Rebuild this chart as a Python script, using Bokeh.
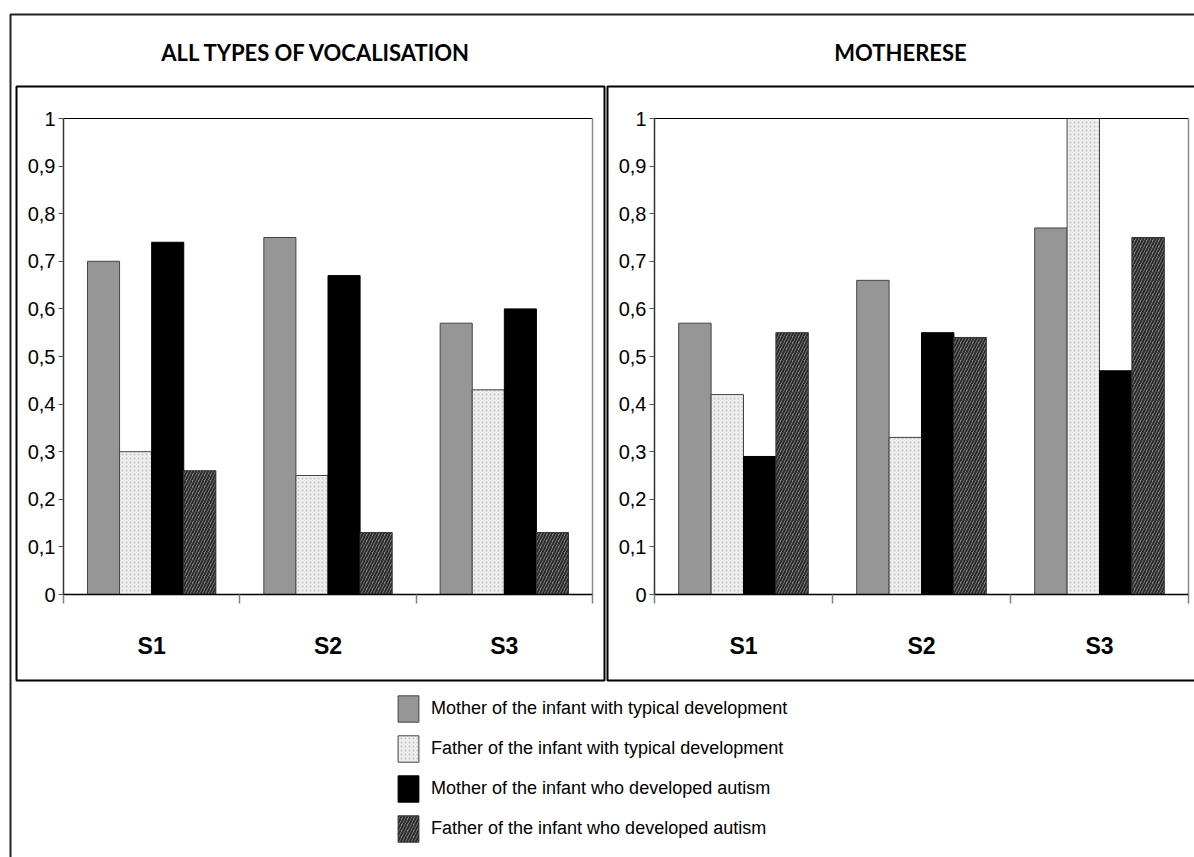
from bokeh.plotting import figure
from bokeh.models import Range1d, LinearAxis, FixedTicker, Legend, LegendItem
from bokeh.embed import file_html
from bokeh.resources import INLINE
from bokeh.core.properties import value

# ---------------- data ----------------
categories = ["S1", "S2", "S3"]
series_names = [
    "Mother of the infant with typical development",
    "Father of the infant with typical development",
    "Mother of the infant who developed autism",
    "Father of the infant who developed autism",
]
panel_titles = ["ALL TYPES OF VOCALISATION", "MOTHERESE"]

# panel 1: all types of vocalisation
allvoc_mother_td = [0.70, 0.75, 0.57]
allvoc_father_td = [0.30, 0.25, 0.43]
allvoc_mother_asd = [0.74, 0.67, 0.60]
allvoc_father_asd = [0.26, 0.13, 0.13]

# panel 2: motherese
moth_mother_td = [0.57, 0.66, 0.77]
moth_father_td = [0.42, 0.33, 1.00]
moth_mother_asd = [0.29, 0.55, 0.47]
moth_father_asd = [0.55, 0.54, 0.75]

y_ticks = [0, 0.1, 0.2, 0.3, 0.4, 0.5, 0.6, 0.7, 0.8, 0.9, 1]
y_tick_labels = ["0", "0,1", "0,2", "0,3", "0,4", "0,5", "0,6", "0,7", "0,8", "0,9", "1"]

# ---------------- layout (screen pixels) ----------------
W, H = 1194, 857
OFF = 0
Y0_PX, Y1_PX = 594, 118          # value 0 and value 1
PANELS = [("L", 63, 592), ("R", 654, 1188)]

p = figure(width=W, height=H, x_range=Range1d(OFF, OFF + W), y_range=Range1d(OFF + H, OFF),
           output_backend="svg", toolbar_location=None, min_border=0,
           x_axis_type=None, y_axis_type=None)
p.outline_line_color = None
p.background_fill_color = "white"
p.border_fill_color = "white"

def val(py):
    return (Y0_PX - py) / (Y0_PX - Y1_PX)

p.extra_y_ranges = {"val": Range1d(val(OFF + H), val(OFF))}
ncat = len(categories)
xr = {}
for name, x0, x1 in PANELS:
    u = (x1 - x0) / ncat
    xr[name] = Range1d((OFF - x0) / u, (OFF + W - x0) / u)
p.extra_x_ranges = xr

# frames (decoration)
p.quad(left=[10], right=[1300], top=[14], bottom=[900], fill_color=None, line_color="#222", line_width=2)
p.quad(left=[16, 607], right=[604, 1300], top=[86, 86], bottom=[680, 680],
       fill_color=None, line_color="black", line_width=2)

p.text(x=[316, 900], y=[52, 52], text=panel_titles, text_font=value("Lato"), text_font_style="bold",
       text_font_size="22px", text_align="center", text_baseline="middle", text_color="black")

styles = [
    dict(fill_color="#969696", line_color="#444444"),
    dict(fill_color="#eeeeee", line_color="#444444", hatch_pattern=".", hatch_color="#c4c4c4", hatch_scale=4, hatch_weight=1),
    dict(fill_color="black", line_color="black"),
    dict(fill_color="#8c8c8c", line_color="#333333", hatch_pattern="/", hatch_color="#2a2a2a", hatch_scale=6, hatch_weight=2),
]
panel_data = {
    "L": [allvoc_mother_td, allvoc_father_td, allvoc_mother_asd, allvoc_father_asd],
    "R": [moth_mother_td, moth_father_td, moth_mother_asd, moth_father_asd],
}
bw = 0.182
legend_renderers = []
for name, x0, x1 in PANELS:
    for k, vals in enumerate(panel_data[name]):
        xs = [i + 0.5 + (k - 1.5) * bw for i in range(ncat)]
        r = p.vbar(x=xs, top=vals, bottom=0, width=bw, line_width=1,
                   x_range_name=name, y_range_name="val", **styles[k])
        if name == "L":
            legend_renderers.append(r)
    # plot area top and right borders
    p.segment(x0=[0], y0=[1], x1=[ncat], y1=[1], line_color="black", line_width=1.2,
              x_range_name=name, y_range_name="val")
    p.segment(x0=[ncat], y0=[0], x1=[ncat], y1=[1], line_color="#8a8a8a", line_width=1.5,
              x_range_name=name, y_range_name="val")

    yax = LinearAxis(x_range_name=name, y_range_name="val", fixed_location=0, bounds=(0, 1),
                     ticker=FixedTicker(ticks=y_ticks, minor_ticks=[]),
                     major_label_overrides=dict(zip(y_ticks, y_tick_labels)))
    yax.axis_line_color = "#333333"
    yax.axis_line_width = 1.5
    yax.major_tick_line_color = "#555555"
    yax.major_tick_out = 5
    yax.major_tick_in = 0
    yax.minor_tick_out = 0
    yax.minor_tick_in = 0
    yax.major_label_standoff = 3
    yax.major_label_text_font = "Liberation Sans"
    yax.major_label_text_font_size = "20px"
    yax.major_label_text_color = "black"
    p.add_layout(yax, "left")

    bticks = list(range(ncat + 1))
    xax = LinearAxis(x_range_name=name, y_range_name="val", fixed_location=0, bounds=(0, ncat),
                     ticker=FixedTicker(ticks=bticks, minor_ticks=[]),
                     major_label_overrides={t: "" for t in bticks})
    xax.axis_line_color = "black"
    xax.axis_line_width = 1.5
    xax.major_tick_line_color = "#808080"
    xax.major_tick_line_width = 1.5
    xax.major_tick_out = 9
    xax.major_tick_in = 0
    xax.minor_tick_out = 0
    xax.minor_tick_in = 0
    xax.major_label_text_color = None
    p.add_layout(xax, "below")

    cticks = [i + 0.5 for i in range(ncat)]
    lax = LinearAxis(x_range_name=name, y_range_name="val", fixed_location=0,
                     ticker=FixedTicker(ticks=cticks, minor_ticks=[]),
                     major_label_overrides=dict(zip(cticks, categories)))
    lax.axis_line_color = None
    lax.major_tick_line_color = None
    lax.minor_tick_line_color = None
    lax.major_tick_out = 0
    lax.major_tick_in = 0
    lax.minor_tick_out = 0
    lax.minor_tick_in = 0
    lax.major_label_standoff = 38
    lax.major_label_text_font = "Liberation Sans"
    lax.major_label_text_font_style = "bold"
    lax.major_label_text_font_size = "23px"
    lax.major_label_text_color = "black"
    p.add_layout(lax, "below")

legend = Legend(items=[LegendItem(label=n, renderers=[r]) for n, r in zip(series_names, legend_renderers)],
                location=(395 - OFF, 12), orientation="vertical")
legend.glyph_width = 26
legend.glyph_height = 33
legend.label_height = 20
legend.spacing = 7
legend.padding = 0
legend.margin = 0
legend.label_standoff = 10
legend.border_line_color = None
legend.background_fill_alpha = 0
legend.label_text_font = "Liberation Sans"
legend.label_text_font_size = "18px"
legend.label_text_color = "black"
p.add_layout(legend)

open("out.html", "w").write(file_html(p, INLINE))
